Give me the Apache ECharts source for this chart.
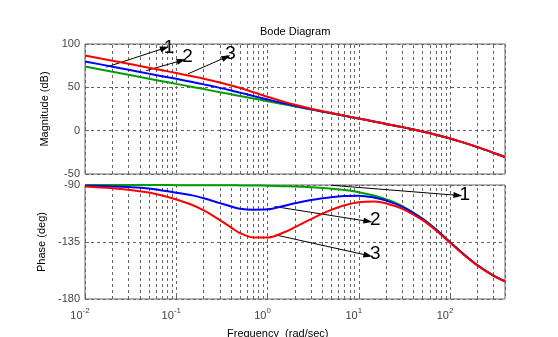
<!DOCTYPE html>
<html>
<head>
<meta charset="utf-8">
<script src="https://cdn.jsdelivr.net/npm/echarts@6/dist/echarts.min.js"></script>
<style>html,body{margin:0;padding:0;background:#fff;}#c{width:558px;height:337px;}</style>
</head>
<body>
<div id="c"></div>
<script>
// ---- data ----
const freq = [0.01,0.02,0.03,0.05,0.07,0.1,0.15,0.2,0.3,0.4,0.5,0.7,1,1.5,2,3,4,5,7,10,15,20,30,50,70,100,150,200,300,400];
const magGreen = [74.0,68.0,64.4,60.0,57.1,54.0,50.5,48.0,44.4,41.9,40.0,37.1,34.0,30.5,28.0,24.4,21.9,20.0,17.1,13.9,10.4,7.8,4.1,-1.0,-4.7,-9.0,-14.7,-19.0,-25.6,-30.4];
const magBlue  = [79.9,73.8,70.3,65.8,62.9,59.8,56.1,53.4,49.4,46.4,43.9,40.1,36.0,31.6,28.7,24.8,22.1,20.1,17.1,14.0,10.4,7.8,4.1,-1.0,-4.7,-9.0,-14.7,-19.0,-25.6,-30.4];
const magRed   = [86.7,80.6,77.1,72.6,69.7,66.5,62.7,59.9,55.5,52.1,49.2,44.4,39.1,33.5,29.9,25.4,22.5,20.4,17.3,14.0,10.4,7.8,4.1,-1.0,-4.7,-9.0,-14.7,-19.0,-25.6,-30.4];
const phaseGreen = [-90.0,-90.0,-90.0,-90.0,-90.0,-90.1,-90.1,-90.1,-90.2,-90.2,-90.3,-90.4,-90.6,-90.9,-91.1,-91.7,-92.3,-92.9,-94.0,-95.7,-98.5,-101.3,-106.7,-116.6,-125.0,-135.0,-146.3,-153.4,-161.6,-166.0];
const phaseBlue  = [-90.6,-91.1,-91.6,-92.7,-94.3,-96.1,-98.2,-100.5,-104.3,-107.0,-108.8,-109.5,-109.2,-106.5,-104.4,-101.9,-100.5,-99.7,-98.6,-98.4,-100.0,-102.3,-107.3,-116.9,-125.2,-135.1,-146.3,-153.4,-161.6,-166.0];
const phaseRed   = [-91.2,-92.5,-93.7,-96.0,-98.3,-101.4,-105.8,-110.1,-117.7,-123.6,-128.0,-131.4,-131.5,-127.5,-123.3,-116.9,-112.6,-109.6,-106.0,-103.6,-103.0,-104.6,-108.8,-117.8,-125.9,-135.6,-146.7,-153.7,-161.8,-166.1];
const magTicks = [-50, 0, 50, 100];
const phaseTicks = [-180, -135, -90];
const decades = [0.01, 0.1, 1, 10, 100];
const minorMult = [2,3,4,5,6,7,8,9];
// annotation arrows (data coordinates): label, start, tip, label position
const magNotes = [
  {label:'1', from:[0.0171,73.3], to:[0.0745,95.3], at:[0.0834,95.1]},
  {label:'2', from:[0.0469,69.3], to:[0.1135,80.9], at:[0.133,85.8]},
  {label:'3', from:[0.134,65.5], to:[0.353,84.9], at:[0.394,89.3]}
];
const phaseNotes = [
  {label:'1', from:[5.0,-90.2], to:[122,-98.2], at:[145,-98.0]},
  {label:'2', from:[1.196,-107.0], to:[12.6,-118.7], at:[15.2,-117.4]},
  {label:'3', from:[1.227,-129.4], to:[12.6,-145.6], at:[15.2,-144.0]}
];

// ---- build ----
const FONT = 'Liberation Sans, Arial, sans-serif';
const AX = '#666';
const minorVals = [];
decades.forEach(d => minorMult.forEach(m => { const v = +(d*m).toPrecision(3); if (v < 400) minorVals.push(v); }));

const chart = echarts.init(document.getElementById('c'), null, {renderer:'canvas'});
const pairs = arr => freq.map((f,i) => [f, arr[i]]);
const curve = (name, arr, color, gi) => ({
  name, type:'line', xAxisIndex:gi, yAxisIndex:gi, data:pairs(arr),
  showSymbol:false, smooth:0.35, lineStyle:{color, width:2}, itemStyle:{color}, z:5, animation:false
});
const minorSeries = gi => ({
  type:'line', xAxisIndex:gi, yAxisIndex:gi, data:[], z:1, silent:true, animation:false,
  markLine:{silent:true, symbol:['none','none'], label:{show:false}, animation:false,
    lineStyle:{color:AX, type:[3,3], width:1}, data:minorVals.map(v => ({xAxis:v}))}
});
const noteSeries = (notes, gi) => ({
  type:'line', xAxisIndex:gi, yAxisIndex:gi, data:[], z:10, silent:true, animation:false,
  markLine:{silent:true, symbol:['none','triangle'], symbolSize:[6,9], label:{show:false}, animation:false,
    lineStyle:{color:'#000', type:'solid', width:1},
    data:notes.map(n => [{coord:n.from}, {coord:n.to}])},
  markPoint:{silent:true, symbol:'circle', symbolSize:0, animation:false,
    label:{show:true, position:'inside', color:'#000', fontSize:19, fontFamily:FONT, formatter:p => p.name},
    data:notes.map(n => ({name:n.label, coord:n.at}))}
});
const xAxisBase = gi => ({
  type:'log', logBase:10, gridIndex:gi, min:0.01, max:400,
  axisLine:{show:false},
  axisTick:{show:true, inside:true, length:4, lineStyle:{color:AX}},
  splitLine:{show:true, lineStyle:{color:AX, type:[3,3], width:1}},
  axisLabel:{show:gi===1, showMaxLabel:false, margin:8, color:'#444', fontFamily:FONT,
    padding:[0,10,0,0],
    formatter: v => '{b|10}{s|' + Math.round(Math.log10(v)) + '}',
    rich:{b:{fontSize:11, fontFamily:FONT, color:'#444'}, s:{fontSize:8, fontFamily:FONT, color:'#444', padding:[0,0,9,0]}}}
});
const yAxisBase = (gi, min, max, interval, name, gap) => ({
  type:'value', gridIndex:gi, min, max, interval,
  axisLine:{show:false}, axisTick:{show:true, inside:true, length:4, lineStyle:{color:AX}},
  splitLine:{show:true, lineStyle:{color:AX, type:[3,3], width:1}},
  axisLabel:{color:'#444', fontSize:11, fontFamily:FONT, margin:5, formatter: v => String(v)},
  name, nameLocation:'middle', nameGap:gap, nameTextStyle:{color:'#000', fontSize:11, fontFamily:FONT}
});

chart.setOption({
  animation:false,
  backgroundColor:'#fff',
  textStyle:{fontFamily:FONT},
  grid:[
    {left:85, top:44, width:420, height:130, show:true, borderColor:AX, borderWidth:1, backgroundColor:'transparent'},
    {left:85, top:185, width:420, height:114, show:true, borderColor:AX, borderWidth:1, backgroundColor:'transparent'}
  ],
  xAxis:[xAxisBase(0), xAxisBase(1)],
  yAxis:[
    yAxisBase(0, magTicks[0], magTicks[magTicks.length-1], 50, 'Magnitude (dB)', 27),
    yAxisBase(1, phaseTicks[0], phaseTicks[phaseTicks.length-1], 45, 'Phase (deg)', 31)
  ],
  graphic:[
    {type:'text', left:260, top:26, style:{text:'Bode Diagram', fontSize:11, fontFamily:FONT, fill:'#000'}},
    {type:'text', left:227, top:328, style:{text:'Frequency  (rad/sec)', fontSize:11, fontFamily:FONT, fill:'#000'}}
  ],
  series:[
    minorSeries(0), minorSeries(1),
    curve('1', magGreen, '#009f00', 0),
    curve('2', magBlue, '#0000ff', 0),
    curve('3', magRed, '#ff0000', 0),
    curve('1', phaseGreen, '#009f00', 1),
    curve('2', phaseBlue, '#0000ff', 1),
    curve('3', phaseRed, '#ff0000', 1),
    noteSeries(magNotes, 0),
    noteSeries(phaseNotes, 1)
  ]
});
</script>
</body>
</html>
